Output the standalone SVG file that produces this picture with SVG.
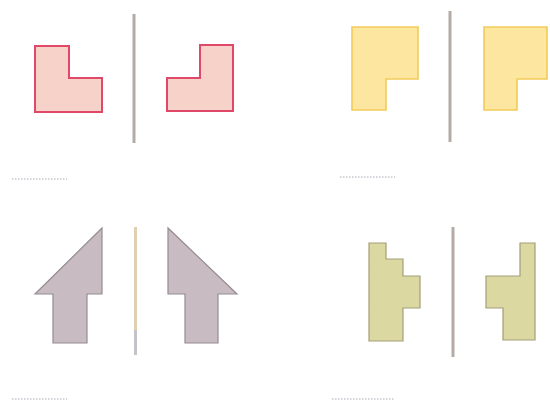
<svg xmlns="http://www.w3.org/2000/svg" width="550" height="401" viewBox="0 0 550 401">
<style>
.pink{fill:#f6d2c8;stroke:#e0486a;stroke-width:2;stroke-linejoin:miter}
.yellow{fill:#fde6a0;stroke:#f2cc58;stroke-width:1.6}
.grey{fill:#c8bcc2;stroke:#948c90;stroke-width:1.2}
.olive{fill:#dcd8a2;stroke:#a49e78;stroke-width:1.2}
.div{stroke:#b4aaa6;stroke-width:3;stroke-linecap:butt}
.dots{stroke:#a8a8b4;stroke-width:1;stroke-dasharray:1.5 1.5}
</style>
<rect width="550" height="401" fill="#ffffff"/>
<g id="panel-tl">
<polygon class="pink" points="35,46 69,46 69,78 102,78 102,112 35,112"/>
<polygon class="pink" points="167,78 200,78 200,45 233,45 233,111 167,111"/>
<line class="div" x1="134" y1="14" x2="134" y2="143"/>
<line class="dots" x1="12" y1="179" x2="67" y2="179"/>
</g>
<g id="panel-tr">
<polygon class="yellow" points="352,27 418,27 418,79 386,79 386,110 352,110"/>
<polygon class="yellow" points="484,27 547,27 547,79 517,79 517,110 484,110"/>
<line class="div" x1="450" y1="11" x2="450" y2="142" stroke="#a8a0a0"/>
<line class="dots" x1="340" y1="177" x2="395" y2="177"/>
</g>
<g id="panel-bl">
<polygon class="grey" points="102,228 102,294 87,294 87,343 53,343 53,294 35,294"/>
<polygon class="grey" points="168,228 168,294 185,294 185,343 218,343 218,294 237,294"/>
<line x1="135.5" y1="227" x2="135.5" y2="330" stroke="#e2cfb2" stroke-width="3"/>
<line x1="135.5" y1="330" x2="135.5" y2="355" stroke="#c4c4c8" stroke-width="3"/>
<line class="dots" x1="12" y1="399" x2="67" y2="399"/>
</g>
<g id="panel-br">
<polygon class="olive" points="369,243 386,243 386,259 403,259 403,276 420,276 420,308 403,308 403,341 369,341"/>
<polygon class="olive" points="520,243 535,243 535,340 503,340 503,308 486,308 486,276 520,276"/>
<line class="div" x1="453" y1="227" x2="453" y2="357" stroke="#b8acac"/>
<line class="dots" x1="332" y1="399" x2="395" y2="399"/>
</g>
</svg>
